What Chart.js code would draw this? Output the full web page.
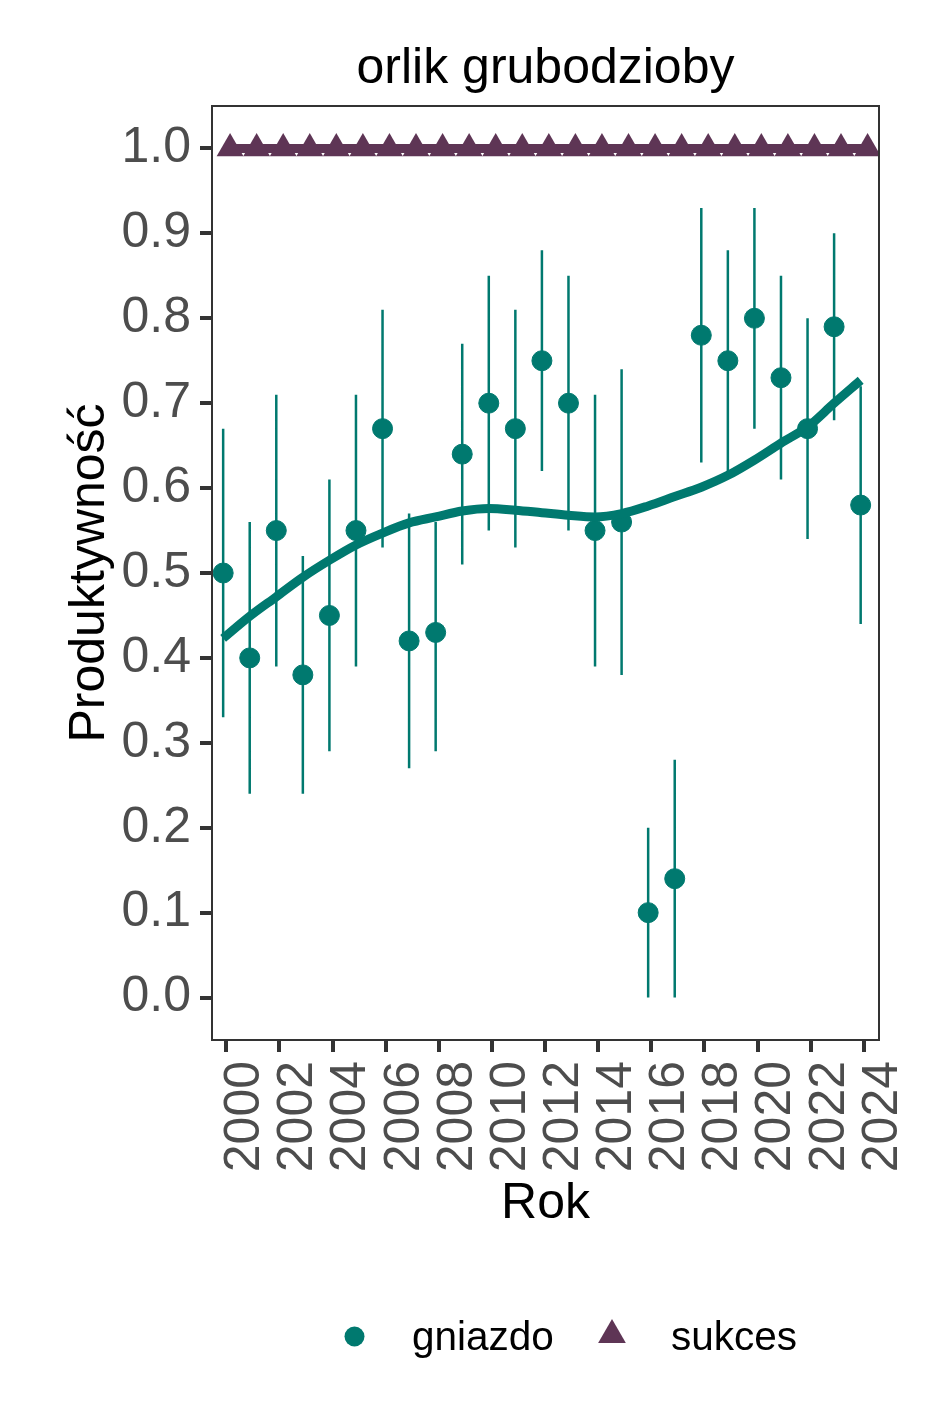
<!DOCTYPE html>
<html lang="pl">
<head>
<meta charset="utf-8">
<title>orlik grubodzioby</title>
<script src="https://cdn.jsdelivr.net/npm/chart.js@4.4.1/dist/chart.umd.min.js"></script>
<style>
  html, body { margin: 0; padding: 0; background: #fff; }
  #wrap { width: 944px; height: 1417px; }
</style>
</head>
<body>
<div id="wrap"><canvas id="chart" width="944" height="1417"></canvas></div>
<script>
// dane
const years = [2000, 2001, 2002, 2003, 2004, 2005, 2006, 2007, 2008, 2009, 2010, 2011, 2012,
  2013, 2014, 2015, 2016, 2017, 2018, 2019, 2020, 2021, 2022, 2023, 2024];
const gniazdo = [0.50, 0.40, 0.55, 0.38, 0.45, 0.55, 0.67, 0.42, 0.43, 0.64, 0.70, 0.67, 0.75,
  0.70, 0.55, 0.56, 0.10, 0.14, 0.78, 0.75, 0.80, 0.73, 0.67, 0.79, 0.58];
const gniazdoLow = [0.33, 0.24, 0.39, 0.24, 0.29, 0.39, 0.53, 0.27, 0.29, 0.51, 0.55, 0.53, 0.62,
  0.55, 0.39, 0.38, 0.00, 0.00, 0.63, 0.62, 0.67, 0.61, 0.54, 0.68, 0.44];
const gniazdoHigh = [0.67, 0.56, 0.71, 0.52, 0.61, 0.71, 0.81, 0.57, 0.56, 0.77, 0.85, 0.81, 0.88,
  0.85, 0.71, 0.74, 0.20, 0.28, 0.93, 0.88, 0.93, 0.85, 0.80, 0.90, 0.72];
const gniazdoSmooth = [0.423, 0.449, 0.472, 0.495, 0.515, 0.533, 0.547, 0.559, 0.566, 0.573, 0.576, 0.574, 0.571,
  0.568, 0.566, 0.570, 0.579, 0.590, 0.601, 0.615, 0.633, 0.653, 0.672, 0.700, 0.727];
const sukces = [1, 1, 1, 1, 1, 1, 1, 1, 1, 1, 1, 1, 1, 1, 1, 1, 1, 1, 1, 1, 1, 1, 1, 1, 1];
const sukcesSmooth = [1, 1, 1, 1, 1, 1, 1, 1, 1, 1, 1, 1, 1, 1, 1, 1, 1, 1, 1, 1, 1, 1, 1, 1, 1];
const seriesNames = ['gniazdo', 'sukces'];
const xTicks = [2000, 2002, 2004, 2006, 2008, 2010, 2012, 2014, 2016, 2018, 2020, 2022, 2024];
const yTicks = [0, 0.1, 0.2, 0.3, 0.4, 0.5, 0.6, 0.7, 0.8, 0.9, 1.0];

const TEAL = '#00796f';
const PLUM = '#5e3555';
const FONT = "'Liberation Sans', Arial, sans-serif";
const DODGE_G = -0.12;   // przesuniecie (position_dodge)
const DODGE_S = 0.14;

function pts(xs, ys, dx) {
  return xs.map((x, i) => ({ x: x + dx, y: ys[i] }));
}

function errorBars(xs, lo, hi, dx) {
  const out = [];
  xs.forEach((x, i) => {
    out.push({ x: x + dx, y: lo[i] }, { x: x + dx, y: hi[i] }, { x: x + dx, y: null });
  });
  return out;
}

// ramka panelu
const panelBorder = {
  id: 'panelBorder',
  afterDraw(chart) {
    const { ctx, chartArea: a } = chart;
    ctx.save();
    ctx.strokeStyle = '#333333';
    ctx.lineWidth = 2;
    ctx.strokeRect(a.left, a.top, a.right - a.left, a.bottom - a.top);
    ctx.restore();
  }
};

// legenda na dole
const bottomLegend = {
  id: 'bottomLegend',
  afterDraw(chart) {
    const ctx = chart.ctx;
    ctx.save();
    ctx.fillStyle = TEAL;
    ctx.beginPath();
    ctx.arc(354.5, 1336.5, 10, 0, Math.PI * 2);
    ctx.fill();

    ctx.fillStyle = PLUM;
    const r = 16, cx = 612, cy = 1335;
    ctx.beginPath();
    ctx.moveTo(cx, cy - r);
    ctx.lineTo(cx + r * Math.sin(2 * Math.PI / 3), cy + r / 2);
    ctx.lineTo(cx - r * Math.sin(2 * Math.PI / 3), cy + r / 2);
    ctx.closePath();
    ctx.fill();

    ctx.fillStyle = '#000';
    ctx.font = '40.5px ' + FONT;
    ctx.textBaseline = 'alphabetic';
    ctx.textAlign = 'left';
    ctx.fillText(seriesNames[0], 412, 1350);
    ctx.fillText(seriesNames[1], 671, 1350);
    ctx.restore();
  }
};

Chart.defaults.font.family = FONT;

new Chart(document.getElementById('chart'), {
  type: 'scatter',
  data: {
    datasets: [
      {
        label: 'sukces',
        data: pts(years, sukces, DODGE_S),
        pointStyle: 'triangle',
        pointRadius: 15.5,
        pointBorderWidth: 0,
        backgroundColor: PLUM,
        borderColor: PLUM
      },
      {
        label: 'sukces trend',
        data: pts(years, sukcesSmooth, DODGE_S),
        showLine: true,
        pointRadius: 0,
        borderWidth: 9,
        borderColor: PLUM
      },
      {
        label: 'gniazdo trend',
        data: pts(years, gniazdoSmooth, DODGE_G),
        showLine: true,
        pointRadius: 0,
        borderWidth: 9,
        borderColor: TEAL,
        cubicInterpolationMode: 'monotone'
      },
      {
        label: 'gniazdo',
        data: pts(years, gniazdo, DODGE_G),
        pointRadius: 10,
        pointBorderWidth: 1,
        backgroundColor: TEAL,
        borderColor: TEAL
      },
      {
        label: 'gniazdo CI',
        data: errorBars(years, gniazdoLow, gniazdoHigh, DODGE_G),
        showLine: true,
        spanGaps: false,
        pointRadius: 0,
        borderWidth: 2.5,
        borderColor: TEAL
      }
    ]
  },
  options: {
    responsive: false,
    animation: false,
    events: [],
    layout: { padding: { top: 0, left: 0, right: 65, bottom: 177 } },
    plugins: {
      legend: { display: false },
      tooltip: { enabled: false },
      title: {
        display: true,
        fullSize: false,
        text: 'orlik grubodzioby',
        color: '#000',
        font: { size: 50, weight: 'normal' },
        padding: { top: 39.4, bottom: 6.6 }
      }
    },
    scales: {
      x: {
        type: 'linear',
        min: 1999.46,
        max: 2024.57,
        afterBuildTicks: s => { s.ticks = xTicks.map(v => ({ value: v })); },
        afterFit: s => { s.height = 200; },
        ticks: {
          autoSkip: false,
          minRotation: 90,
          maxRotation: 90,
          labelOffset: 19,
          padding: 9,
          color: '#4d4d4d',
          font: { size: 50 },
          callback: v => String(v)
        },
        grid: { drawOnChartArea: false, drawTicks: true, tickLength: 12, tickWidth: 4, lineWidth: 4, tickColor: '#333333' },
        border: { display: false },
        title: { display: true, text: 'Rok', color: '#000', font: { size: 50 }, padding: { top: 0, bottom: 5.6 } }
      },
      y: {
        min: -0.05,
        max: 1.05,
        afterBuildTicks: s => { s.ticks = yTicks.map(v => ({ value: v })); },
        afterFit: s => { s.width = 212; },
        ticks: {
          padding: 9,
          color: '#4d4d4d',
          font: { size: 50 },
          callback: v => v.toFixed(1)
        },
        grid: { drawOnChartArea: false, drawTicks: true, tickLength: 12, tickWidth: 4, lineWidth: 4, tickColor: '#333333' },
        border: { display: false },
        title: { display: true, text: 'Produktywność', color: '#000', font: { size: 50 }, padding: { top: 60.7, bottom: 0 } }
      }
    }
  },
  plugins: [panelBorder, bottomLegend]
});
</script>
</body>
</html>
